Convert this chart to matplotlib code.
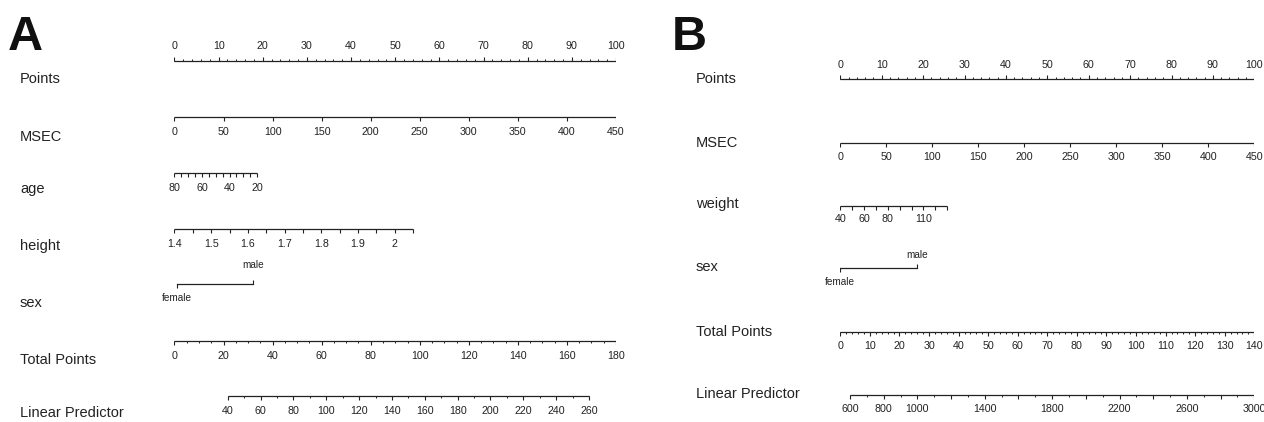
import matplotlib.pyplot as plt
import numpy as np

plt.rcParams['font.family'] = ['Liberation Sans', 'DejaVu Sans']
INK = '#222222'

# ---------------- panel A: nomogram values ----------------
a_points_major = np.arange(0, 101, 10)
a_points_minor = np.arange(0, 101, 2)

a_msec_ticks = np.arange(0, 451, 50)
a_msec_range = (0, 450)            # spans 0..100 points

a_age_ticks = np.arange(80, 19, -5)
a_age_labels = [80, 60, 40, 20]
a_age_range = (80, 20)
a_age_pts = (0, 18.7)

a_height_ticks = np.round(np.arange(1.40, 2.051, 0.05), 2)
a_height_labels = [1.4, 1.5, 1.6, 1.7, 1.8, 1.9, 2.0]
a_height_range = (1.4, 2.05)
a_height_pts = (0, 54)

a_sex_levels = ['female', 'male']
a_sex_pts = [0.5, 17.8]

a_total_major = np.arange(0, 181, 20)
a_total_minor = np.arange(0, 181, 5)
a_total_max = 180

a_lp_major = np.arange(40, 261, 20)
a_lp_minor = np.arange(40, 261, 10)
a_lp_range = (40, 260)
a_lp_total = (21.7, 169.0)         # total points at LP = 40 and 260

# ---------------- panel B: nomogram values ----------------
b_points_major = np.arange(0, 101, 10)
b_points_minor = np.arange(0, 101, 2)

b_msec_ticks = np.arange(0, 451, 50)
b_msec_range = (0, 450)

b_weight_ticks = np.arange(40, 131, 10)
b_weight_labels = [40, 60, 80, 110]
b_weight_range = (40, 130)
b_weight_pts = (0, 25.8)

b_sex_levels = ['female', 'male']
b_sex_pts = [0, 18.6]

b_total_major = np.arange(0, 141, 10)
b_total_minor = np.arange(0, 141, 2)
b_total_max = 140

b_lp_ticks = np.arange(600, 3001, 200)
b_lp_minor = np.arange(600, 3001, 100)
b_lp_labels = [600, 800, 1000, 1400, 1800, 2200, 2600, 3000]
b_lp_range = (600, 3000)
b_lp_total = (3.28, 140.0)


def lin(v, src, dst):
    v = np.asarray(v, dtype=float)
    return dst[0] + (v - src[0]) * (dst[1] - dst[0]) / (src[1] - src[0])


def fmt(v):
    return ('%g' % v)


def scale_row(ax, y, major, labels_at, labels, minor=None, up=False,
              off=15, tick=4, mtick=2, fs=7.7):
    allx = np.concatenate([np.atleast_1d(major)] +
                          ([np.atleast_1d(minor)] if minor is not None else []))
    ax.plot([allx.min(), allx.max()], [y, y], color=INK, lw=0.9,
            solid_capstyle='butt')
    d = -1 if up else 1
    ax.vlines(major, y, y + d * tick, color=INK, lw=0.8)
    if minor is not None:
        ax.vlines(minor, y, y + d * mtick, color=INK, lw=0.7)
    for x, t in zip(labels_at, labels):
        ax.text(x, y + d * off, t, ha='center', va='center', fontsize=fs,
                color=INK)


def sex_row(ax, y, pts, levels, above=14, below=14):
    ax.plot(pts, [y, y], color=INK, lw=0.9)
    ax.vlines(pts[0], y, y + 4, color=INK, lw=0.8)
    ax.vlines(pts[1], y, y - 4, color=INK, lw=0.8)
    ax.text(pts[0], y + below, levels[0], ha='center', va='center',
            fontsize=7.2, color=INK)
    ax.text(pts[1], y - above, levels[1], ha='center', va='center',
            fontsize=7.2, color=INK)


fig = plt.figure(figsize=(12.64, 4.22), dpi=100)
W, H = 1264, 422

# ---------------- panel A ----------------
axA = fig.add_axes([174.5 / W, 0, 441.5 / W, 1])
axA.set_xlim(0, 100)
axA.set_ylim(H, 0)
axA.axis('off')
ppx_a = 441.5 / 100
lab_x_a = (20 - 174.5) / ppx_a

scale_row(axA, 61, a_points_major, a_points_major,
          [fmt(v) for v in a_points_major], minor=a_points_minor, up=True)
msec_a = lin(a_msec_ticks, a_msec_range, (0, 100))
scale_row(axA, 117, msec_a, msec_a, [fmt(v) for v in a_msec_ticks])
scale_row(axA, 173, lin(a_age_ticks, a_age_range, a_age_pts),
          lin(a_age_labels, a_age_range, a_age_pts),
          [fmt(v) for v in a_age_labels])
scale_row(axA, 229, lin(a_height_ticks, a_height_range, a_height_pts),
          lin(a_height_labels, a_height_range, a_height_pts),
          [fmt(v) for v in a_height_labels])
sex_row(axA, 284, a_sex_pts, a_sex_levels, above=19, below=14)
tot_a = lin(a_total_major, (0, a_total_max), (0, 100))
scale_row(axA, 341, tot_a, tot_a, [fmt(v) for v in a_total_major],
          minor=lin(a_total_minor, (0, a_total_max), (0, 100)))
lp_a = lin(lin(a_lp_major, a_lp_range, a_lp_total), (0, a_total_max), (0, 100))
lp_a_minor = lin(lin(a_lp_minor, a_lp_range, a_lp_total), (0, a_total_max), (0, 100))
scale_row(axA, 396, lp_a, lp_a, [fmt(v) for v in a_lp_major],
          minor=lp_a_minor, off=15)

for name, y in [('Points', 79), ('MSEC', 137), ('age', 189), ('height', 246),
                ('sex', 303), ('Total Points', 360), ('Linear Predictor', 413)]:
    axA.text(lab_x_a, y, name, ha='left', va='center', fontsize=10.5, color=INK,
             clip_on=False)
axA.text((8 - 174.5) / ppx_a, 50, 'A', ha='left', va='baseline', fontsize=35,
         fontweight='bold', color='#111111', clip_on=False)

# ---------------- panel B ----------------
axB = fig.add_axes([840.3 / W, 0, 414 / W, 1])
axB.set_xlim(0, 100)
axB.set_ylim(H, 0)
axB.axis('off')
ppx_b = 414 / 100
lab_x_b = (696 - 840.3) / ppx_b

scale_row(axB, 79, b_points_major, b_points_major,
          [fmt(v) for v in b_points_major], minor=b_points_minor, up=True, off=14)
msec_b = lin(b_msec_ticks, b_msec_range, (0, 100))
scale_row(axB, 143, msec_b, msec_b, [fmt(v) for v in b_msec_ticks], off=13.5)
scale_row(axB, 206, lin(b_weight_ticks, b_weight_range, b_weight_pts),
          lin(b_weight_labels, b_weight_range, b_weight_pts),
          [fmt(v) for v in b_weight_labels], off=13.5)
sex_row(axB, 268, b_sex_pts, b_sex_levels, above=13, below=14)
tot_b = lin(b_total_major, (0, b_total_max), (0, 100))
scale_row(axB, 332, tot_b, tot_b, [fmt(v) for v in b_total_major],
          minor=lin(b_total_minor, (0, b_total_max), (0, 100)), off=14)
lp_b = lin(lin(b_lp_ticks, b_lp_range, b_lp_total), (0, b_total_max), (0, 100))
lp_b_minor = lin(lin(b_lp_minor, b_lp_range, b_lp_total), (0, b_total_max), (0, 100))
lp_b_lab = lin(lin(b_lp_labels, b_lp_range, b_lp_total), (0, b_total_max), (0, 100))
scale_row(axB, 395, lp_b, lp_b_lab, [fmt(v) for v in b_lp_labels],
          minor=lp_b_minor, off=14)

for name, y in [('Points', 79), ('MSEC', 143), ('weight', 204), ('sex', 267),
                ('Total Points', 332), ('Linear Predictor', 394)]:
    axB.text(lab_x_b, y, name, ha='left', va='center', fontsize=10.5, color=INK,
             clip_on=False)
axB.text((672 - 840.3) / ppx_b, 50, 'B', ha='left', va='baseline', fontsize=35,
         fontweight='bold', color='#111111', clip_on=False)

fig.savefig('out.png', dpi=100)
